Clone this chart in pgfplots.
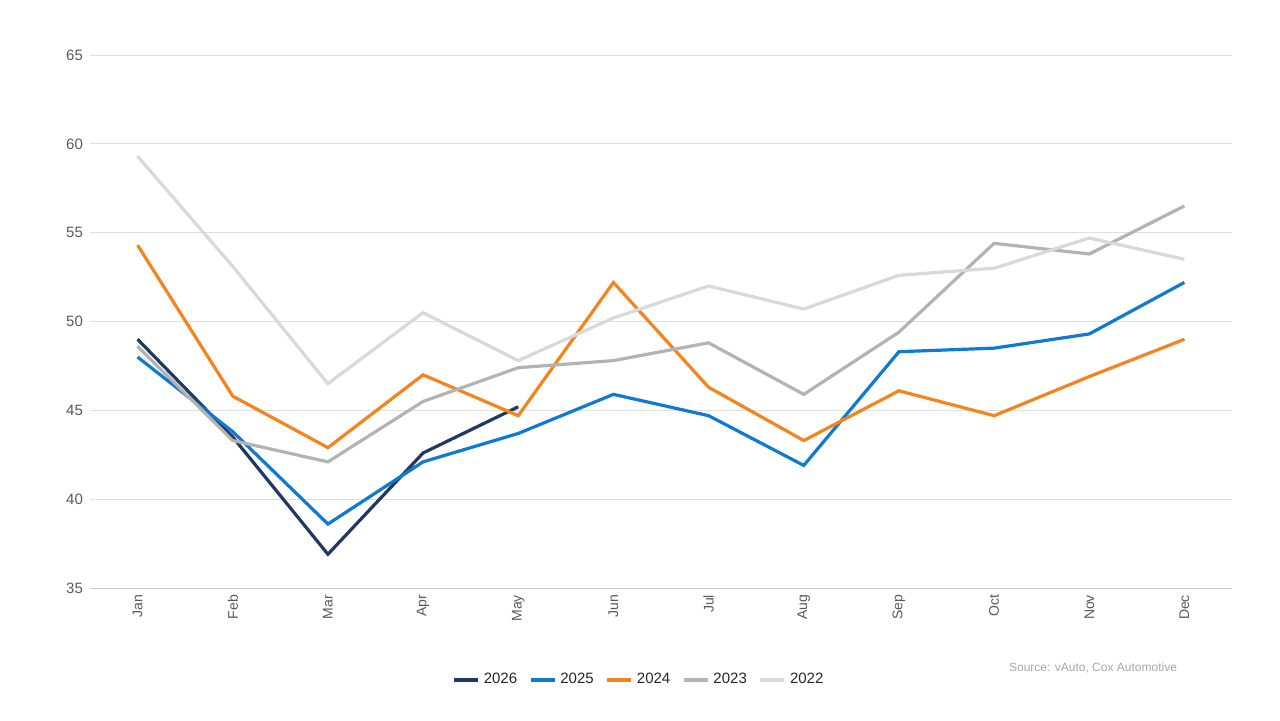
\documentclass[border=0pt]{standalone}
\usepackage{pgfplots}
\pgfplotsset{compat=1.18}
\usepackage{fontspec}
\setmainfont{Liberation Sans}
\definecolor{c26}{HTML}{203864}
\definecolor{c25}{HTML}{0F7AD4}
\definecolor{c24}{HTML}{F5841F}
\definecolor{c23}{HTML}{B3B3B3}
\definecolor{c22}{HTML}{D9D9D9}
\definecolor{tx}{HTML}{595959}
\begin{document}
\begin{tikzpicture}
\path (0,0) rectangle (640pt,360pt);
\begin{axis}[at={(45pt,66pt)},anchor=south west,scale only axis,
 width=571pt,height=266.5pt,
 xmin=-0.5,xmax=11.5,ymin=35,ymax=65,
 xtick={0,...,11},xticklabels={Jan,Feb,Mar,Apr,May,Jun,Jul,Aug,Sep,Oct,Nov,Dec},
 x tick label style={rotate=90,anchor=east,font=\fontsize{7}{8}\selectfont,text=tx},
 ytick={35,40,...,65},
 y tick label style={font=\fontsize{7.5}{8}\selectfont,text=tx},
 /pgf/number format/assume math mode=true,
 ymajorgrids,grid style={draw=gray!25,line width=0.4pt},
 axis line style={draw=none},axis x line*=bottom,
 x axis line style={draw=gray!40},
 tick style={draw=none},
 legend style={at={(275pt,-46pt)},anchor=center,draw=none,legend columns=5,
   font=\fontsize{7.5}{8}\selectfont,text=black!85,/tikz/every even column/.append style={column sep=4pt}},
 legend image post style={line width=1.6pt},
 legend image code/.code={\draw[#1] (0pt,0pt) -- (12pt,0pt);},
 every axis plot/.append style={line width=1.6pt,no marks}]
\addplot[c26] coordinates {(0,49.0)(1,43.5)(2,36.9)(3,42.6)(4,45.2)};
\addplot[c25] coordinates {(0,48.0)(1,43.8)(2,38.6)(3,42.1)(4,43.7)(5,45.9)(6,44.7)(7,41.9)(8,48.3)(9,48.5)(10,49.3)(11,52.2)};
\addplot[c24] coordinates {(0,54.3)(1,45.8)(2,42.9)(3,47.0)(4,44.7)(5,52.2)(6,46.3)(7,43.3)(8,46.1)(9,44.7)(10,46.9)(11,49.0)};
\addplot[c23] coordinates {(0,48.6)(1,43.3)(2,42.1)(3,45.5)(4,47.4)(5,47.8)(6,48.8)(7,45.9)(8,49.4)(9,54.4)(10,53.8)(11,56.5)};
\addplot[c22] coordinates {(0,59.3)(1,53.1)(2,46.5)(3,50.5)(4,47.8)(5,50.2)(6,52.0)(7,50.7)(8,52.6)(9,53.0)(10,54.7)(11,53.5)};
\legend{2026,2025,2024,2023,2022}
\end{axis}
\node[anchor=east,font=\fontsize{6}{7}\selectfont,text=gray!70] at (592pt,26pt) {Source: vAuto, Cox Automotive};
\end{tikzpicture}
\end{document}
